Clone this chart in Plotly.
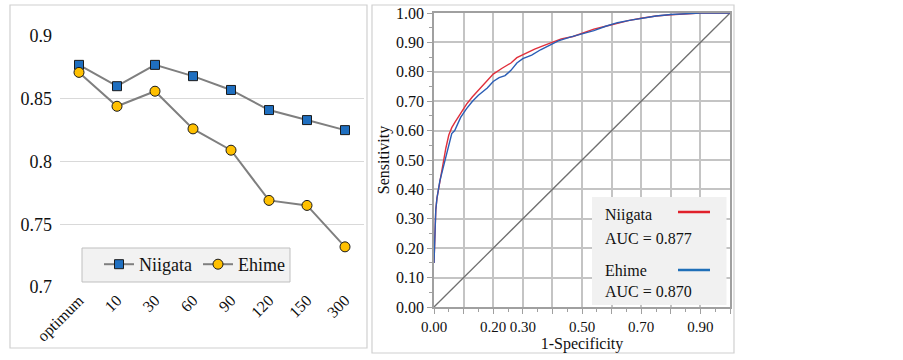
import plotly.graph_objects as go

W, H = 903, 360

# ---------------- data ----------------
windows = ["optimum", "10", "30", "60", "90", "120", "150", "300"]
niigata_auc = [0.877, 0.860, 0.877, 0.868, 0.857, 0.841, 0.833, 0.825]
ehime_auc = [0.871, 0.844, 0.856, 0.826, 0.809, 0.769, 0.765, 0.732]

niigata_fpr = [0, 0.002, 0.004, 0.006, 0.01, 0.015, 0.02, 0.03, 0.04, 0.05, 0.06, 0.07, 0.09,
               0.11, 0.13, 0.15, 0.18, 0.20, 0.23, 0.26, 0.28, 0.31, 0.34, 0.37, 0.40, 0.43,
               0.47, 0.50, 0.54, 0.58, 0.62, 0.66, 0.70, 0.75, 0.80, 0.85, 0.90, 1.0]
niigata_tpr = [0.15, 0.22, 0.28, 0.33, 0.37, 0.40, 0.43, 0.49, 0.54, 0.585, 0.61, 0.627, 0.66,
               0.69, 0.715, 0.737, 0.768, 0.792, 0.812, 0.83, 0.848, 0.863, 0.877, 0.889, 0.90,
               0.912, 0.92, 0.93, 0.945, 0.955, 0.965, 0.975, 0.982, 0.99, 0.994, 0.997, 1.0, 1.0]

ehime_fpr = [0, 0.002, 0.004, 0.006, 0.01, 0.015, 0.02, 0.03, 0.04, 0.05, 0.06, 0.07, 0.08,
             0.09, 0.11, 0.13, 0.15, 0.18, 0.20, 0.22, 0.24, 0.26, 0.28, 0.30, 0.33, 0.36,
             0.39, 0.42, 0.46, 0.50, 0.54, 0.58, 0.62, 0.66, 0.70, 0.75, 0.80, 0.85, 0.90, 1.0]
ehime_tpr = [0.15, 0.23, 0.29, 0.33, 0.37, 0.40, 0.43, 0.47, 0.51, 0.55, 0.59, 0.60, 0.62,
             0.645, 0.675, 0.70, 0.72, 0.745, 0.767, 0.78, 0.787, 0.805, 0.83, 0.845, 0.857,
             0.875, 0.89, 0.905, 0.918, 0.93, 0.94, 0.955, 0.967, 0.975, 0.982, 0.99, 0.995,
             0.998, 1.0, 1.0]

chance = [0, 1]

y_ticks_left = [0.7, 0.75, 0.8, 0.85, 0.9]
y_ticks_right = [i / 10 for i in range(11)]
x_grid_right = [i / 10 for i in range(11)]
x_labels_right = ["0.00", "", "0.20", "0.30", "", "0.50", "", "0.70", "", "0.90", ""]

legend_texts = [("Niigata", "AUC = 0.877", "#e0202a"), ("Ehime", "AUC = 0.870", "#1f6fb8")]

# ---------------- helpers ----------------
def px(x):
    return x / W

def py(y):
    return 1 - y / H

FONT = "Liberation Serif"

fig = go.Figure()

# left chart
fig.add_trace(go.Scatter(
    x=windows, y=niigata_auc, name="Niigata", mode="lines+markers",
    line=dict(color="#7f7f7f", width=2),
    marker=dict(symbol="square", size=9, color="#1f6fc0", line=dict(color="#1a1a1a", width=1)),
    xaxis="x", yaxis="y", legend="legend"))
fig.add_trace(go.Scatter(
    x=windows, y=ehime_auc, name="Ehime", mode="lines+markers",
    line=dict(color="#7f7f7f", width=2),
    marker=dict(symbol="circle", size=10, color="#ffc000", line=dict(color="#1a1a1a", width=1)),
    xaxis="x", yaxis="y", legend="legend"))

# right chart
fig.add_trace(go.Scatter(x=chance, y=chance, mode="lines", line=dict(color="#707070", width=1.3),
                         showlegend=False, xaxis="x2", yaxis="y2", hoverinfo="skip"))
fig.add_trace(go.Scatter(x=niigata_fpr, y=niigata_tpr, mode="lines", name="Niigata ROC",
                         line=dict(color="#e0303c", width=1.4), showlegend=False,
                         xaxis="x2", yaxis="y2"))
fig.add_trace(go.Scatter(x=ehime_fpr, y=ehime_tpr, mode="lines", name="Ehime ROC",
                         line=dict(color="#2a5db5", width=1.4), showlegend=False,
                         xaxis="x2", yaxis="y2"))

shapes = [
    # panel borders
    dict(type="rect", xref="paper", yref="paper", x0=px(10), x1=px(367), y0=py(348), y1=py(5),
         line=dict(color="#d0d0d0", width=1.2), fillcolor="rgba(0,0,0,0)", layer="below"),
    dict(type="rect", xref="paper", yref="paper", x0=px(372), x1=px(734), y0=py(353), y1=py(5),
         line=dict(color="#d0d0d0", width=1.2), fillcolor="rgba(0,0,0,0)", layer="below"),
    # left legend box
    dict(type="rect", xref="paper", yref="paper", x0=px(82), x1=px(290), y0=py(282), y1=py(248),
         line=dict(color="#bfbfbf", width=1), fillcolor="#f2f2f2", layer="above"),
    # right legend box
    dict(type="rect", xref="paper", yref="paper", x0=px(592), x1=px(726.5), y0=py(305), y1=py(197),
         line=dict(width=0), fillcolor="#f1f1f1", layer="above"),
]
annotations = []
ys = [(215, 238, 212), (270, 291, 270)]
for (name, auc, col), (yn, ya, yl) in zip(legend_texts, ys):
    annotations.append(dict(text=name, xref="paper", yref="paper", x=px(603), y=py(yn),
                            xanchor="left", yanchor="middle", showarrow=False,
                            font=dict(family=FONT, size=16, color="#111")))
    annotations.append(dict(text=auc, xref="paper", yref="paper", x=px(603), y=py(ya),
                            xanchor="left", yanchor="middle", showarrow=False,
                            font=dict(family=FONT, size=16, color="#111")))
    shapes.append(dict(type="line", xref="paper", yref="paper", x0=px(678), x1=px(710),
                       y0=py(yl), y1=py(yl), line=dict(color=col, width=2.5), layer="above"))

fig.update_layout(
    width=W, height=H, margin=dict(l=0, r=0, t=0, b=0, autoexpand=False),
    paper_bgcolor="white", plot_bgcolor="white",
    font=dict(family=FONT, size=16, color="#111"),
    showlegend=True,
    legend=dict(orientation="h", x=px(99), y=py(246), xanchor="left", yanchor="top",
                bgcolor="rgba(0,0,0,0)", borderwidth=0,
                font=dict(family=FONT, size=18, color="#111"), itemwidth=30,
                entrywidth=54, entrywidthmode="pixels", tracegroupgap=0),
    xaxis=dict(domain=[px(60), px(364)], type="category", range=[-0.5, 7.5],
               showgrid=False, showline=False, ticks="", tickangle=-45, automargin=False,
               tickfont=dict(family=FONT, size=16), anchor="y", fixedrange=True),
    yaxis=dict(domain=[py(287), py(36)], range=[0.7, 0.9], tickvals=y_ticks_left,
               ticktext=[str(v) for v in y_ticks_left], automargin=False,
               showgrid=True, gridcolor="#d9d9d9", gridwidth=1, zeroline=False,
               showline=False, ticks="", ticklabelstandoff=7,
               tickfont=dict(family=FONT, size=18), anchor="x"),
    xaxis2=dict(domain=[px(434), px(730)], range=[0, 1], tickvals=x_grid_right,
                ticktext=x_labels_right, showgrid=True, gridcolor="#c4c4c4", gridwidth=1.5,
                zeroline=False, showline=True, linecolor="#a0a0a0", linewidth=1.5, mirror=True,
                ticks="outside", ticklen=5, tickcolor="#a0a0a0", tickangle=0, automargin=False,
                minor=dict(dtick=0.05, ticks="outside", ticklen=3, tickcolor="#a0a0a0", showgrid=False),
                tickfont=dict(family=FONT, size=15), anchor="y2",
                title=dict(text="1-Specificity", font=dict(family=FONT, size=16), standoff=2)),
    yaxis2=dict(domain=[py(307), py(13)], range=[0, 1], tickvals=y_ticks_right,
                ticktext=[f"{v:.2f}" for v in y_ticks_right], showgrid=True, automargin=False,
                gridcolor="#c4c4c4", gridwidth=1.5, zeroline=False, showline=True,
                linecolor="#a0a0a0", linewidth=1.5, mirror=True,
                ticks="outside", ticklen=5, tickcolor="#a0a0a0",
                minor=dict(dtick=0.05, ticks="outside", ticklen=3, tickcolor="#a0a0a0", showgrid=False),
                tickfont=dict(family=FONT, size=16), anchor="x2",
                title=dict(text="Sensitivity", font=dict(family=FONT, size=16), standoff=2)),
    shapes=shapes, annotations=annotations,
)

fig.write_html("out.html", config={"displayModeBar": False},
               post_script="document.body.style.margin='0';")
